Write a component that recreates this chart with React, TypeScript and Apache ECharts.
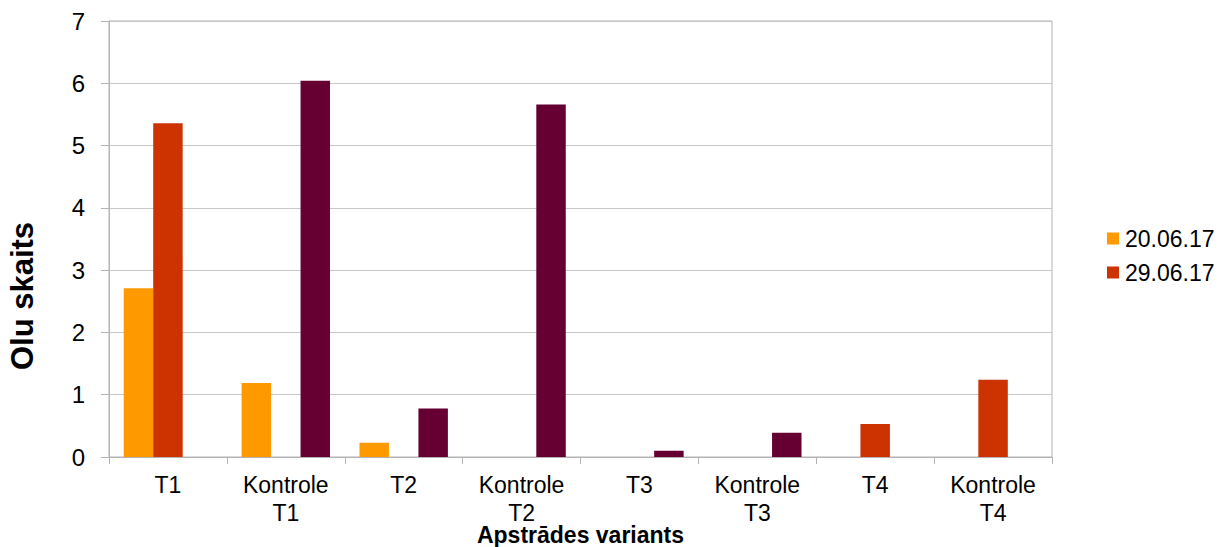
import React, { useEffect, useRef } from "react";
import * as echarts from "echarts";

const categories = ["T1", "Kontrole\nT1", "T2", "Kontrole\nT2", "T3", "Kontrole\nT3", "T4", "Kontrole\nT4"];
const seriesA = [2.71, 1.19, 0.23, 0, 0, 0, 0, 0];
const seriesB = [5.36, 0, 0, 0, 0, 0, 0.53, 1.24];
const seriesC = [0, 6.04, 0.78, 5.66, 0.1, 0.39, 0, 0];
const seriesNames = ["20.06.17", "29.06.17", ""];
const yTicks = { min: 0, max: 7, interval: 1 };

export default function App() {
  const ref = useRef<HTMLDivElement>(null);
  useEffect(() => {
    if (!ref.current) return;
    const chart = echarts.init(ref.current, null, { renderer: "svg" });
    const font = "'Liberation Sans', Arial, sans-serif";
    chart.setOption({
      animation: false,
      textStyle: { fontFamily: font },
      grid: {
        left: 109,
        right: 178,
        top: 21,
        bottom: 90,
        show: true,
        borderColor: "#b3b3b3",
        borderWidth: 1,
        containLabel: false,
        outerBoundsMode: "none",
      },
      legend: {
        data: [seriesNames[0], seriesNames[1]],
        orient: "vertical",
        left: 1102,
        top: 222,
        itemWidth: 12,
        itemHeight: 12,
        itemGap: 11,
        icon: "rect",
        textStyle: { fontSize: 23, color: "#000", fontFamily: font, padding: [0, 0, 0, 1] },
      },
      xAxis: {
        type: "category",
        data: categories,
        name: "Apstrādes variants",
        nameLocation: "middle",
        nameGap: 66,
        nameMoveOverlap: false,
        nameTextStyle: { fontSize: 23, fontWeight: "bold", color: "#000", fontFamily: font },
        axisLine: { lineStyle: { color: "#b3b3b3" } },
        axisTick: { show: true, length: 7, lineStyle: { color: "#b3b3b3" } },
        axisLabel: { fontSize: 23, color: "#000", margin: 14, lineHeight: 28, fontFamily: font },
      },
      yAxis: {
        type: "value",
        min: yTicks.min,
        max: yTicks.max,
        interval: yTicks.interval,
        axisLine: { show: true, lineStyle: { color: "#b3b3b3" } },
        axisTick: { show: true, length: 8, lineStyle: { color: "#b3b3b3" } },
        axisLabel: { fontSize: 24, color: "#000", margin: 24, fontFamily: font },
        splitLine: { lineStyle: { color: "#c8c8c8" } },
      },
      graphic: [
        {
          type: "text",
          x: 22,
          y: 296,
          rotation: Math.PI / 2,
          style: {
            text: "Olu skaits",
            font: `bold 31px ${font}`,
            fill: "#000",
            textAlign: "center",
            textVerticalAlign: "middle",
          },
        },
      ],
      series: [
        { name: seriesNames[0], type: "bar", data: seriesA, itemStyle: { color: "#FF9900" }, barGap: "0%", barCategoryGap: "25%" },
        { name: seriesNames[1], type: "bar", data: seriesB, itemStyle: { color: "#CC3300" }, barGap: "0%", barCategoryGap: "25%" },
        { name: "s3", type: "bar", data: seriesC, itemStyle: { color: "#660033" }, barGap: "0%", barCategoryGap: "25%" },
      ],
    });
    return () => chart.dispose();
  }, []);
  return <div ref={ref} style={{ width: 1230, height: 547, position: "absolute", left: 0, top: 0 }} />;
}
